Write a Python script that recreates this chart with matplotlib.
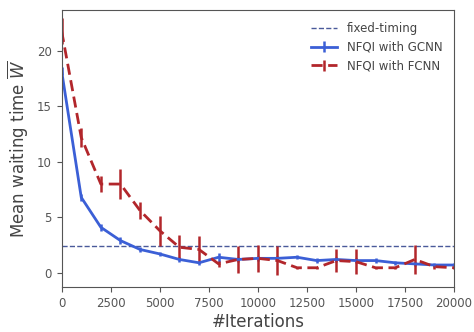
import numpy as np
import matplotlib
matplotlib.use('Agg')
import matplotlib.pyplot as plt

#Input data
iterations = np.arange(0, 20001, 1000)
fixed_timing = 2.45

gcnn_mean = [18.2, 6.8, 4.1, 2.9, 2.1, 1.7, 1.2, 0.9, 1.4, 1.2, 1.3,
             1.3, 1.4, 1.1, 1.2, 1.1, 1.1, 0.9, 0.8, 0.7, 0.7]
gcnn_err = [0.4, 0.3, 0.3, 0.3, 0.25, 0.2, 0.2, 0.2, 0.4, 0.2, 0.2,
            0.2, 0.2, 0.2, 0.2, 0.2, 0.2, 0.2, 0.2, 0.2, 0.2]

fcnn_mean = [21.8, 12.2, 8.0, 8.0, 5.6, 3.8, 2.3, 2.1, 0.8, 1.2, 1.3,
             1.1, 0.45, 0.45, 1.1, 1.0, 0.45, 0.45, 1.2, 0.55, 0.45]
fcnn_err = [1.2, 0.9, 0.7, 1.35, 0.75, 1.35, 1.1, 1.2, 0.3, 1.2, 1.2,
            1.3, 0.1, 0.1, 1.0, 1.1, 0.1, 0.1, 1.3, 0.2, 0.1]

txt = '#444444'
plt.rcParams['font.family'] = ['DejaVu Sans']

fig, ax = plt.subplots(figsize=(4.74, 3.32), dpi=100)

ax.axhline(fixed_timing, color='#4a5a9a', linestyle='--', linewidth=1.0,
           label='fixed-timing')
ax.errorbar(iterations, gcnn_mean, yerr=gcnn_err, color='#3b5fd6',
            linewidth=2.0, elinewidth=1.8, label='NFQI with GCNN')
ax.errorbar(iterations, fcnn_mean, yerr=fcnn_err, color='#b2262b',
            linestyle=(0, (4, 2)), linewidth=2.0, elinewidth=1.8,
            label='NFQI with FCNN')

ax.set_xlim(0, 20000)
ax.set_ylim(-1.3, 23.7)
ax.set_xticks(np.arange(0, 20001, 2500))
ax.set_yticks([0, 5, 10, 15, 20])
ax.tick_params(colors='#555555', labelsize=8.5, labelcolor='#555555')
for s in ax.spines.values():
    s.set_color('#555555')

ax.set_xlabel('#Iterations', fontsize=12, color=txt, labelpad=2)
ax.set_ylabel(r'Mean waiting time $\overline{W}$', fontsize=12, color=txt)

leg = ax.legend(loc='upper right', fontsize=8.5, frameon=False,
                borderaxespad=0.6, handlelength=2.2)
for t in leg.get_texts():
    t.set_color(txt)

fig.subplots_adjust(left=0.13, right=0.958, top=0.97, bottom=0.135)
plt.savefig('out.png')
